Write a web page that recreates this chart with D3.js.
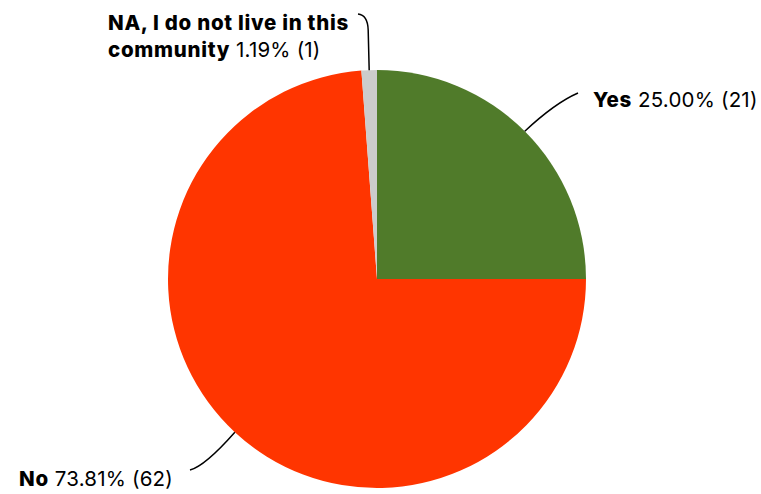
<!DOCTYPE html>
<html><head><meta charset="utf-8">
<script src="https://cdn.jsdelivr.net/npm/d3@7/dist/d3.min.js"></script>
<style>body{margin:0;background:#fff}svg{display:block}</style>
</head><body>
<svg id="c" width="761" height="494"></svg>
<script>
const categories = ["Yes", "No", "NA, I do not live in this community"];
const counts = [21, 62, 1];
const percents = ["25.00%", "73.81%", "1.19%"];
const colors = ["#507b2a", "#ff3500", "#cccccc"];

const svg = d3.select("#c");
const cx = 377, cy = 279, R = 209;
const g = svg.append("g").attr("transform", `translate(${cx},${cy})`);
const pie = d3.pie().sort(null).value(d => d)(counts);
const arc = d3.arc().innerRadius(0).outerRadius(R);
g.selectAll("path.s").data(pie).join("path").attr("class","s")
  .attr("d", arc).attr("fill", (d,i) => colors[i]);

const layout = [
  {end:[578,93], c:[555,103], tx:593, ty:106.5, anchor:"start"},
  {end:[190,470], c:[205,466], tx:173, ty:486, anchor:"end"},
  {end:[358,14], c:[368,14], tx:108, ty:29.5, anchor:"start"}
];
const fs = 20.5;
const font = "Inter";
const bw = 800;
function addBold(t, s){ t.append("tspan").attr("font-weight",bw).attr("letter-spacing",0.7).text(s); }
function addReg(t, s){ t.append("tspan").attr("font-weight",400).attr("letter-spacing",0.2).text(s); }
pie.forEach((d,i) => {
  const a = (d.startAngle + d.endAngle)/2;
  const sx = cx + Math.sin(a)*R, sy = cy - Math.cos(a)*R;
  const L = layout[i];
  let p;
  if (i === 2) p = `M${sx},${sy} L${sx-1},${30} Q${sx-1.5},${15} ${L.end[0]},${L.end[1]}`;
  else p = `M${sx},${sy} Q${L.c[0]},${L.c[1]} ${L.end[0]},${L.end[1]}`;
  svg.append("path").attr("d", p).attr("fill","none").attr("stroke","#000").attr("stroke-width",1.5);
  const valText = `${percents[i]} (${counts[i]})`;
  if (i === 2) {
    const t1 = svg.append("text").attr("x", L.tx).attr("y", L.ty).attr("font-family",font).attr("font-size",fs);
    addBold(t1, "NA, I do not live in this");
    const t2 = svg.append("text").attr("x", L.tx).attr("y", L.ty+27.5).attr("font-family",font).attr("font-size",fs);
    addBold(t2, "community");
    addReg(t2, " " + valText);
  } else {
    const t = svg.append("text").attr("x", L.tx).attr("y", L.ty).attr("text-anchor", L.anchor)
      .attr("font-family",font).attr("font-size",fs);
    addBold(t, categories[i]);
    addReg(t, " " + valText);
  }
});
</script>
</body></html>
